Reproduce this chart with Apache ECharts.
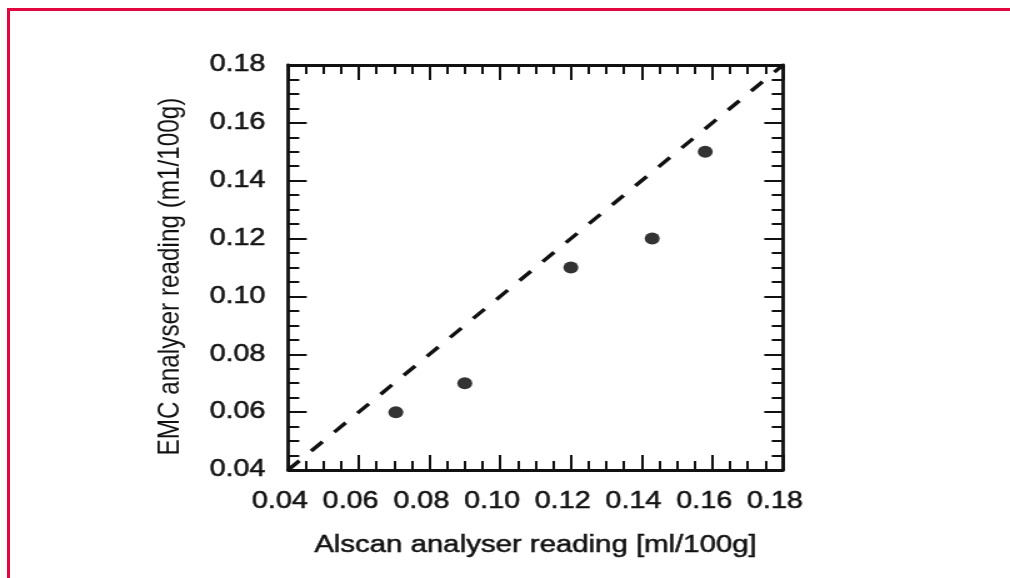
<!DOCTYPE html>
<html>
<head>
<meta charset="utf-8">
<script src="https://cdn.jsdelivr.net/npm/echarts@6/dist/echarts.min.js"></script>
<style>
  html, body { margin: 0; padding: 0; background: #fff; overflow: hidden; }
  #frame { position: absolute; left: 7px; top: 8px; width: 1003px; height: 570px;
           border-top: 3px solid #e2063e; border-left: 3px solid #e2063e; box-sizing: border-box; }
  #chart { position: absolute; left: 0; top: 0; width: 808px; height: 578px;
           transform: scaleX(1.25); transform-origin: 0 0; }
</style>
</head>
<body>
<div id="frame"></div>
<div id="chart"></div>
<script>
// ---- data ----
const alscan = [0.0705, 0.090, 0.120, 0.143, 0.158];   // x values
const emc    = [0.060, 0.070, 0.110, 0.120, 0.150];    // y values
const lineX  = [0.04, 0.18];                           // 1:1 reference line
const lineY  = [0.04, 0.18];
const tickLabels = ['0.04', '0.06', '0.08', '0.10', '0.12', '0.14', '0.16', '0.18'];
const xTitle = 'Alscan analyser reading [ml/100g]';
const yTitle = 'EMC analyser reading (m1/100g)';

const axisMin = 0.04, axisMax = 0.18, axisStep = 0.02;
const fmt = v => tickLabels[Math.round((v - axisMin) / axisStep)] || '';
const ink = '#111111';
const font = '"Liberation Sans", Arial, sans-serif';

function axis(extra) {
  return Object.assign({
    type: 'value', min: axisMin, max: axisMax, interval: axisStep,
    axisLine: { show: true, onZero: false, lineStyle: { color: ink, width: 2.8 } },
    axisTick: { show: true, inside: true, length: 15, lineStyle: { color: ink, width: 2 } },
    minorTick: { show: true, splitNumber: 4, length: 9, lineStyle: { color: ink, width: 2 } },
    splitLine: { show: false },
    minorSplitLine: { show: false },
    axisLabel: { show: false }
  }, extra);
}

const chart = echarts.init(document.getElementById('chart'), null, { renderer: 'canvas' });
chart.setOption({
  animation: false,
  backgroundColor: 'transparent',
  grid: { left: 230.4, right: 181.6, top: 65, bottom: 108, containLabel: false },
  xAxis: [
    axis({
      position: 'bottom',
      name: xTitle, nameLocation: 'middle', nameGap: 64,
      nameTextStyle: { fontFamily: font, fontSize: 23.5, color: ink,
                       textBorderColor: ink, textBorderWidth: 0.5 },
      axisLabel: { show: true, formatter: fmt, margin: 20, padding: [0, 13, 0, 0],
                   fontFamily: font, fontSize: 23, color: ink,
                   textBorderColor: ink, textBorderWidth: 0.5 }
    }),
    axis({ position: 'top' })
  ],
  yAxis: [
    axis({
      position: 'left',
      name: yTitle, nameLocation: 'middle', nameGap: 82, nameRotate: 90,
      nameTextStyle: { fontFamily: font, fontSize: 24.3, color: ink, padding: [0, 18, 0, 0] },
      axisLabel: { show: true, formatter: fmt, margin: 18,
                   fontFamily: font, fontSize: 23, color: ink,
                   textBorderColor: ink, textBorderWidth: 0.5 }
    }),
    axis({ position: 'right' })
  ],
  series: [
    {
      type: 'line',
      xAxisIndex: 0, yAxisIndex: 0,
      data: lineX.map((x, i) => [x, lineY[i]]),
      showSymbol: false, symbol: 'none',
      lineStyle: { color: ink, width: 3.4, type: [13, 13.5] },
      silent: true, z: 2
    },
    {
      type: 'scatter',
      xAxisIndex: 0, yAxisIndex: 0,
      data: alscan.map((x, i) => [x, emc[i]]),
      symbol: 'circle', symbolSize: 12,
      itemStyle: { color: '#000' },
      z: 3
    }
  ]
});
</script>
</body>
</html>
